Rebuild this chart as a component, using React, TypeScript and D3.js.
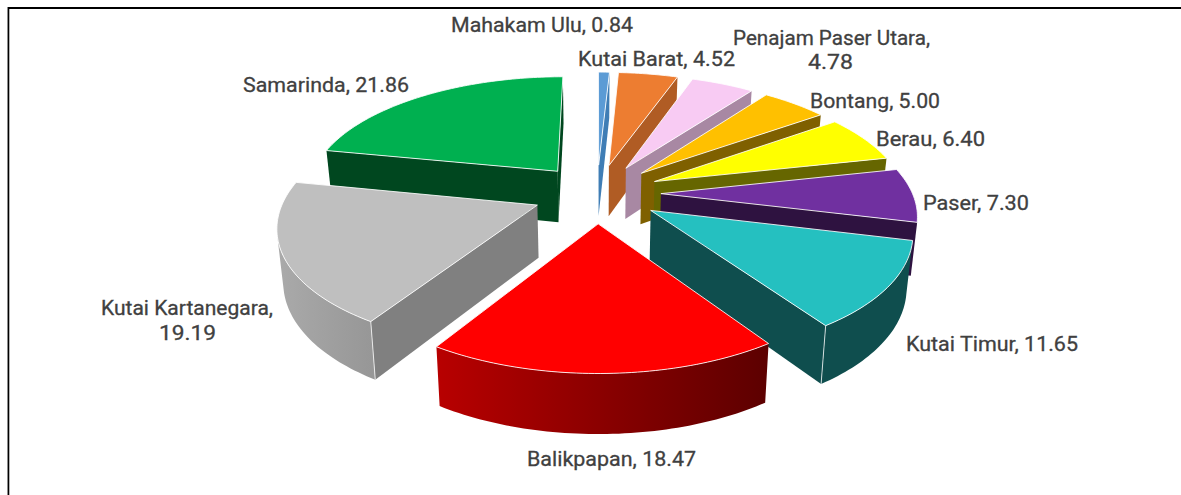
import React from "react";
import * as d3 from "d3";

// ---- data ----
const regions = ["Mahakam Ulu","Kutai Barat","Penajam Paser Utara","Bontang","Berau","Paser","Kutai Timur","Balikpapan","Kutai Kartanegara","Samarinda"];
const shares = [0.84,4.52,4.78,5.0,6.4,7.3,11.65,18.47,19.19,21.86];
const topColors = ["#5B9BD5","#ED7D31","#F8CBF3","#FFC000","#FFFF00","#7030A0","#25C0C0","#FF0000","#BFBFBF","#00B050"];
const radialColors = ["#3F7DB5","#B05C24","#A888A3","#7F6000","#666600","#2E1240","#0F4E4E","#8A0000","#808080","#00471F"];
const arcColorsLeft = ["#3F7DB5","#B05C24","#A888A3","#7F6000","#666600","#2E1240","#0F4E4E","#B80000","#AAAAAA","#00471F"];
const arcColorsRight = ["#3F7DB5","#B05C24","#A888A3","#7F6000","#666600","#2E1240","#0F4E4E","#5C0000","#979797","#00471F"];
const paintOrder = [9,0,1,2,3,4,5,6,8,7];
const labelLines = [
  {lines:["Mahakam Ulu, 0.84"], cx:[542], base:[32], w:[182]},
  {lines:["Kutai Barat, 4.52"], cx:[656.5], base:[66], w:[157]},
  {lines:["Penajam Paser Utara,","4.78"], cx:[831.5,830.5], base:[45,69], w:[197,45]},
  {lines:["Bontang, 5.00"], cx:[875], base:[108], w:[130]},
  {lines:["Berau, 6.40"], cx:[930.5], base:[146], w:[109]},
  {lines:["Paser, 7.30"], cx:[976], base:[210], w:[106]},
  {lines:["Kutai Timur, 11.65"], cx:[992], base:[351], w:[172]},
  {lines:["Balikpapan, 18.47"], cx:[611.5], base:[466], w:[169]},
  {lines:["Kutai Kartanegara,","19.19"], cx:[187,187.5], base:[315,340], w:[172,57]},
  {lines:["Samarinda, 21.86"], cx:[326], base:[92], w:[166]},
];

// ---- projection of the tilted, exploded pie ----
const W = 1181, H = 495;
const CX = 597, CY = 193.3, RX = 251.5, RY = 115.6, K = 0.156, EXPLODE = 0.254, DEPTH = 52, TAPER = 0.98;

type P = [number, number];
const denom = (v: number) => 1 + K * v;
const project = (u: number, v: number): P => [CX + (RX * u) / denom(v), CY - (RY * v) / denom(v)];
const drop = (u: number, v: number): P => {
  const [x, y] = project(u, v);
  return [CX + (x - CX) * TAPER, y + DEPTH / Math.pow(denom(v), 0.7)];
};
const lineGen = d3.line<P>().x((d) => d[0]).y((d) => d[1]);
const closed = (pts: P[]) => lineGen(pts) + "Z";

const pieAngles = d3.pie<number>().sort(null).value((d) => d).startAngle(0).endAngle(2 * Math.PI)(shares);

function sliceParts(i: number) {
  const a0 = pieAngles[i].startAngle, a1 = pieAngles[i].endAngle, mid = (a0 + a1) / 2;
  const ou = EXPLODE * Math.sin(mid), ov = EXPLODE * Math.cos(mid);
  const steps = Math.max(6, Math.ceil((a1 - a0) / 0.02));
  const ground: P[] = d3.range(steps + 1).map((s) => {
    const a = a0 + ((a1 - a0) * s) / steps;
    return [ou + Math.sin(a), ov + Math.cos(a)] as P;
  });
  const apex: P = [ou, ov];
  const t = (g: P) => project(g[0], g[1]);
  const b = (g: P) => drop(g[0], g[1]);
  const facing = (p: P, q: P) => d3.polygonArea([t(p), t(q), b(q), b(p)]) > 0;

  const top = closed([t(apex), ...ground.map(t)]);
  const first = ground[0], last = ground[ground.length - 1];
  const radials: string[] = [];
  const wallA = facing(apex, first), wallB = facing(last, apex);
  if (wallA) radials.push(closed([t(apex), t(first), b(first), b(apex)]));
  if (wallB) radials.push(closed([t(last), t(apex), b(apex), b(last)]));

  const runs: P[][] = [];
  let cur: P[] = [];
  for (let s = 0; s < ground.length - 1; s++) {
    if (facing(ground[s], ground[s + 1])) {
      if (!cur.length) cur.push(ground[s]);
      cur.push(ground[s + 1]);
    } else if (cur.length) { runs.push(cur); cur = []; }
  }
  if (cur.length) runs.push(cur);
  const arcs = runs.map((r) => closed([...r.map(t), ...r.slice().reverse().map(b)]));
  const allX = runs.flat().map((g) => t(g)[0]);
  const x0 = d3.min(allX) ?? 0, x1 = d3.max(allX) ?? 1;

  const edges: [P, P][] = [];
  if (wallA && facing(ground[0], ground[1])) edges.push([t(first), b(first)]);
  if (wallB && facing(ground[ground.length - 2], last)) edges.push([t(last), b(last)]);
  return { top, radials, arcs, x0, x1, edges };
}

export default function App() {
  return (
    <svg width={W} height={H} viewBox={`0 0 ${W} ${H}`} style={{ position: "fixed", left: 0, top: 0, background: "#fff" }}>
      <line x1={7.5} y1={7} x2={7.5} y2={H} stroke="#C8C8C8" strokeWidth={1} />
      <line x1={8.5} y1={7} x2={8.5} y2={H} stroke="#000" strokeWidth={1.6} />
      <line x1={8} y1={8} x2={W} y2={8} stroke="#000" strokeWidth={2} />
      {paintOrder.map((i) => {
        const s = sliceParts(i);
        const gid = `arc-${i}`;
        return (
          <g key={regions[i]}>
            <defs>
              <linearGradient id={gid} gradientUnits="userSpaceOnUse" x1={s.x0} x2={s.x1} y1={0} y2={0}>
                <stop offset="0" stopColor={arcColorsLeft[i]} />
                <stop offset="1" stopColor={arcColorsRight[i]} />
              </linearGradient>
            </defs>
            {s.arcs.map((d, k) => (
              <path key={"a" + k} d={d} fill={`url(#${gid})`} />
            ))}
            {s.radials.map((d, k) => (
              <path key={"r" + k} d={d} fill={radialColors[i]} />
            ))}
            {s.edges.map((e, k) => (
              <line key={"e" + k} x1={e[0][0]} y1={e[0][1]} x2={e[1][0]} y2={e[1][1]} stroke="#fff" strokeOpacity={0.75} strokeWidth={1} />
            ))}
            <path d={s.top} fill={topColors[i]} stroke="#fff" strokeOpacity={0.85} strokeWidth={1} strokeLinejoin="round" />
          </g>
        );
      })}
      <g fontFamily="Roboto, 'Open Sans', sans-serif" fontSize={21} fill="#404040" stroke="#404040" strokeWidth={0.3} textAnchor="middle">
        {labelLines.map((l) =>
          l.lines.map((t, j) => (
            <text key={t} x={l.cx[j]} y={l.base[j]} textLength={l.w[j]} lengthAdjust="spacingAndGlyphs">{t}</text>
          ))
        )}
      </g>
    </svg>
  );
}
